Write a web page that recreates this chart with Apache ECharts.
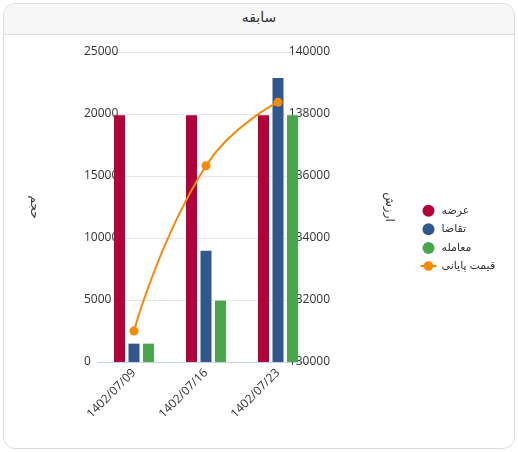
<!DOCTYPE html>
<html>
<head>
<meta charset="utf-8">
<script src="https://cdn.jsdelivr.net/npm/echarts@6/dist/echarts.min.js"></script>
<style>
  html, body { margin: 0; padding: 0; background: #fff; width: 518px; height: 452px; overflow: hidden; }
  #card { position: absolute; left: 3px; top: 3px; width: 510px; height: 444px; border: 1px solid #dcdcdc; border-radius: 12px; background: #fff; overflow: hidden; }
  #head { position: absolute; left: 0; top: 0; width: 510px; height: 30px; background: #f7f7f7; border-bottom: 1px solid #dcdcdc; text-align: center; font: 14px "DejaVu Sans", sans-serif; line-height: 27px; color: #333; }
  #chart { position: absolute; left: 0; top: 35px; width: 518px; height: 414px; }
</style>
</head>
<body>
<div id="card"><div id="head">سابقه</div></div>
<div id="chart"></div>
<script>
const categories = ['1402/07/09', '1402/07/16', '1402/07/23'];
const supply = [19900, 19900, 19900];      // عرضه
const demand = [1480, 8980, 22900];        // تقاضا
const trades = [1480, 4950, 19900];        // معامله
const closePrice = [131000, 136330, 138380]; // قیمت پایانی
const leftTicks = { min: 0, max: 25000, interval: 5000 };
const rightTicks = { min: 130000, max: 140000, interval: 2000 };

const font = '"Open Sans", "DejaVu Sans", sans-serif';
const plain = v => String(v);
const chart = echarts.init(document.getElementById('chart'), null, { renderer: 'canvas' });
chart.setOption({
  animation: false,
  textStyle: { fontFamily: font },
  grid: { left: 98, right: 204, top: 17, bottom: 87, containLabel: false, outerBoundsMode: 'none' },
  legend: {
    orient: 'vertical', left: 414.5, top: 164.7,
    itemWidth: 16, itemHeight: 12, itemGap: 6.6,
    textStyle: { fontSize: 11, color: '#333', fontFamily: font },
    data: [
      { name: 'عرضه', icon: 'circle' },
      { name: 'تقاضا', icon: 'circle' },
      { name: 'معامله', icon: 'circle' },
      { name: 'قیمت پایانی' }
    ]
  },
  xAxis: {
    type: 'category', data: categories,
    axisLine: { lineStyle: { color: '#c3d2e6' } },
    axisTick: { show: false },
    axisLabel: { rotate: 45, fontSize: 12, color: '#333', margin: 9, interval: 0 }
  },
  yAxis: [
    {
      type: 'value', min: leftTicks.min, max: leftTicks.max, interval: leftTicks.interval,
      name: 'حجم', nameLocation: 'middle', nameGap: 58, nameRotate: -90,
      nameTextStyle: { fontSize: 12, color: '#333' },
      axisLabel: { align: 'left', margin: 14, fontSize: 12, color: '#333', formatter: plain },
      splitLine: { lineStyle: { color: '#e6e6e6' } }
    },
    {
      type: 'value', min: rightTicks.min, max: rightTicks.max, interval: rightTicks.interval,
      name: 'ارزش', nameLocation: 'middle', nameGap: 69, nameRotate: -90,
      nameTextStyle: { fontSize: 12, color: '#333' },
      axisLabel: { align: 'right', margin: 16, fontSize: 12, color: '#333', formatter: plain },
      splitLine: { show: false }
    }
  ],
  series: [
    { name: 'عرضه', type: 'bar', data: supply, barWidth: 11, barGap: '32%', itemStyle: { color: '#b0003e' } },
    { name: 'تقاضا', type: 'bar', data: demand, barWidth: 11, barGap: '32%', itemStyle: { color: '#30588d' } },
    { name: 'معامله', type: 'bar', data: trades, barWidth: 11, barGap: '32%', itemStyle: { color: '#4ba54c' } },
    {
      name: 'قیمت پایانی', type: 'line', yAxisIndex: 1, data: closePrice, smooth: true,
      symbol: 'circle', symbolSize: 9, showSymbol: true, z: 5,
      lineStyle: { width: 2, color: '#f58a07' }, itemStyle: { color: '#f58a07' }
    }
  ]
});
</script>
</body>
</html>
